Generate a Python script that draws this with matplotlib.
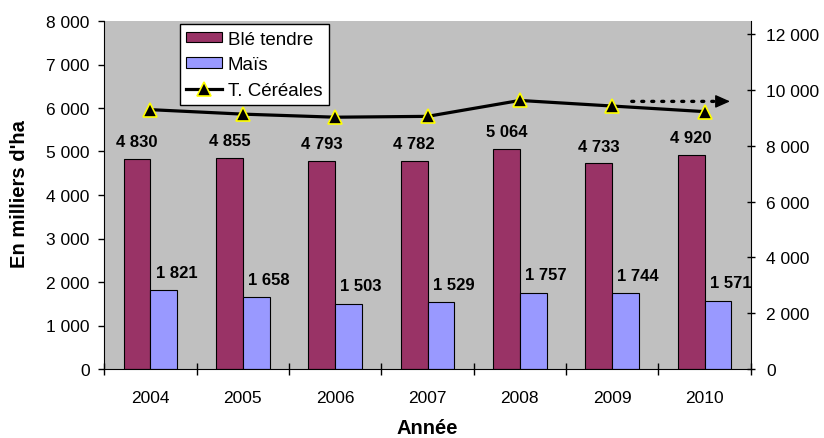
import matplotlib
matplotlib.use("Agg")
import matplotlib.pyplot as plt
import numpy as np
from matplotlib.ticker import FuncFormatter, FixedLocator
from matplotlib.lines import Line2D
from matplotlib.patches import Patch

plt.rcParams['font.family'] = ['Liberation Sans', 'DejaVu Sans']

years = ["2004", "2005", "2006", "2007", "2008", "2009", "2010"]
ble_tendre = [4830, 4855, 4793, 4782, 5064, 4733, 4920]
mais = [1821, 1658, 1503, 1529, 1757, 1744, 1571]
t_cereales = [9290, 9130, 9020, 9050, 9620, 9420, 9220]

def fmt(v, pos=None):
    return f"{int(round(v)):,}".replace(",", " ")

fig = plt.figure(figsize=(8.24, 4.39), dpi=100)
L, R, B, T = 104.3 / 824, 750.7 / 824, 1 - 370 / 439, 1 - 22 / 439
ax = fig.add_axes([L, B, R - L, T - B])
ax.set_facecolor("#C0C0C0")

x = np.arange(len(years))
w = 0.29
ax.bar(x - w / 2, ble_tendre, w, color="#993366", edgecolor="black", linewidth=0.8, zorder=2)
ax.bar(x + w / 2, mais, w, color="#9999FF", edgecolor="black", linewidth=0.8, zorder=2)

for xi, v in zip(x, ble_tendre):
    ax.annotate(fmt(v), (xi - w / 2, v), xytext=(0, 9), textcoords="offset points",
                ha="center", va="baseline", fontsize=12, fontweight="bold", zorder=5)
for xi, v in zip(x, mais):
    ax.annotate(fmt(v), (xi + w / 2, v), xytext=(9, 9.5), textcoords="offset points",
                ha="center", va="baseline", fontsize=12, fontweight="bold", zorder=5)

ax.set_xlim(-0.5, len(years) - 0.5)
ax.set_ylim(0, 8000)
ax.yaxis.set_major_locator(FixedLocator(np.arange(0, 8001, 1000)))
ax.yaxis.set_major_formatter(FuncFormatter(fmt))
ax.xaxis.set_major_locator(FixedLocator(np.arange(-0.5, len(years), 1.0)))
ax.xaxis.set_major_formatter(FuncFormatter(lambda v, p: ""))
ax.set_xticks(x, years, minor=True)
ax.tick_params(axis="x", which="major", direction="inout", length=8.6, width=1)
ax.tick_params(axis="x", which="minor", length=0, pad=15, labelsize=12.5)
ax.tick_params(axis="y", direction="out", length=4.5, width=1, pad=6, labelsize=12.5)

for s in ["top", "right"]:
    ax.spines[s].set_visible(False)

ax2 = ax.twinx()
ax2.set_ylim(0, 12466)
ax2.yaxis.set_major_locator(FixedLocator(np.arange(0, 12001, 2000)))
ax2.yaxis.set_major_formatter(FuncFormatter(fmt))
ax2.tick_params(axis="y", direction="inout", length=6, width=1, pad=8, labelsize=12.5)
for s in ["top", "left", "bottom"]:
    ax2.spines[s].set_visible(False)

ax2.plot(x, t_cereales, color="black", linewidth=2.3, marker="^", markersize=10.5,
         markerfacecolor="black", markeredgecolor="#FFFF00", markeredgewidth=1.2, zorder=4)

# trend arrow (dotted shaft + solid head)
ax2.annotate("", xy=(0.952, 0.769), xytext=(0.816, 0.769), xycoords="axes fraction",
             arrowprops=dict(arrowstyle="-", color="black", linestyle=(0, (0.6, 2.4)),
                             linewidth=2.4, shrinkA=0, shrinkB=0, capstyle="round"))
ax2.annotate("", xy=(0.968, 0.769), xytext=(0.950, 0.769), xycoords="axes fraction",
             arrowprops=dict(arrowstyle="-|>,head_length=0.9,head_width=0.4", color="black",
                             linewidth=1, shrinkA=0, shrinkB=0))

handles = [Patch(facecolor="#993366", edgecolor="black", linewidth=0.8),
           Patch(facecolor="#9999FF", edgecolor="black", linewidth=0.8),
           Line2D([], [], color="black", linewidth=2.3, marker="^", markersize=10.5,
                  markerfacecolor="black", markeredgecolor="#FFFF00", markeredgewidth=1.2)]
leg = ax2.legend(handles, ["Blé tendre", "Maïs", "T. Céréales"], loc="upper left",
                 bbox_to_anchor=(0.117, 0.991), borderaxespad=0, fontsize=13.5,
                 fancybox=False, framealpha=1, edgecolor="black", handlelength=1.9,
                 handleheight=0.5, handletextpad=0.3, labelspacing=0.45, borderpad=0.35)
leg.get_frame().set_linewidth(1)

fig.text(20 / 824, 1 - 194 / 439, "En milliers d'ha", rotation=90, ha="center", va="center",
         fontsize=14.5, fontweight="bold")
fig.text(427.5 / 824, 1 - 429 / 439, "Année", ha="center", va="center",
         fontsize=14.5, fontweight="bold")

fig.savefig("out.png", dpi=100)
